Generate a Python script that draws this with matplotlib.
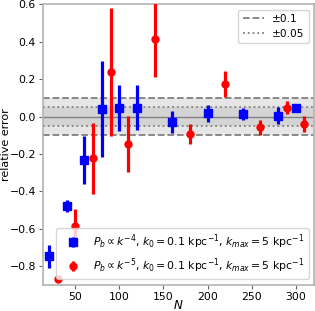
import numpy as np
from matplotlib import pyplot as plt

# relative error of recovered power spectrum vs number of points
N_k4 = [20, 40, 60, 80, 100, 120, 160, 200, 240, 280, 300]
err_k4 = [-0.748, -0.478, -0.232, 0.04, 0.045, 0.048, -0.03, 0.018, 0.013, 0.005, 0.048]
sig_k4 = [0.062, 0.03, 0.13, 0.255, 0.123, 0.12, 0.058, 0.045, 0.033, 0.045, 0.02]

N_k5 = [30, 50, 70, 90, 110, 140, 180, 220, 260, 290, 310]
err_k5 = [-0.866, -0.585, -0.223, 0.238, -0.146, 0.416, -0.093, 0.173, -0.057, 0.048, -0.039]
sig_k5 = [0.0, 0.09, 0.19, 0.34, 0.148, 0.205, 0.055, 0.07, 0.04, 0.035, 0.042]

lab_k4 = r'$P_b \propto k^{-4}$, $k_0 = 0.1$ kpc$^{-1}$, $k_{max} = 5$ kpc$^{-1}$'
lab_k5 = r'$P_b \propto k^{-5}$, $k_0 = 0.1$ kpc$^{-1}$, $k_{max} = 5$ kpc$^{-1}$'

fs = 7.6

fig = plt.figure(figsize=(3.15, 3.11), dpi=100)
ax = fig.add_axes([0.136, 0.084, 0.861, 0.902])

xlim = (13, 321)
xs = np.array(xlim)
ax.fill_between(xs, -0.1, 0.1, color='0.9', lw=0, zorder=0)
ax.fill_between(xs, -0.05, 0.05, color='0.83', lw=0, zorder=0)
ax.axhline(0, color='0.5', lw=1, zorder=1)
l1, = ax.plot(xs, [0.1, 0.1], ls='--', color='0.5', lw=1.3, zorder=1)
ax.plot(xs, [-0.1, -0.1], ls='--', color='0.5', lw=1.3, zorder=1)
l2, = ax.plot(xs, [0.05, 0.05], ls=':', color='0.5', lw=1.3, zorder=1)
ax.plot(xs, [-0.05, -0.05], ls=':', color='0.5', lw=1.3, zorder=1)

e1 = ax.errorbar(N_k4, err_k4, yerr=sig_k4, fmt='s', color='blue', ms=5.5, elinewidth=2.3, zorder=3, label=lab_k4)
e2 = ax.errorbar(N_k5, err_k5, yerr=sig_k5, fmt='o', color='red', ms=5, elinewidth=2.3, zorder=3, label=lab_k5)

leg1 = ax.legend([l1, l2], ['±0.1', '±0.05'], loc='upper right', fontsize=fs)
ax.add_artist(leg1)
ax.legend(handles=[e1, e2], loc='lower right', fontsize=7.8, handlelength=2.2)

ax.set_xlim(*xlim)
ax.set_ylim(-0.9, 0.6)
ax.set_xticks([50, 100, 150, 200, 250, 300])
ax.set_yticks([-0.8, -0.6, -0.4, -0.2, 0.0, 0.2, 0.4, 0.6])
ax.tick_params(labelsize=7.8, length=3, pad=2, color='0.4')
for s in ax.spines.values():
    s.set_color('0.7')
    s.set_linewidth(1.2)
ax.set_xlabel(r'$N$', fontsize=8.6)
ax.set_ylabel('relative error', fontsize=8)
ax.xaxis.set_label_coords(0.5, -0.05)
ax.yaxis.set_label_coords(-0.116, 0.5)

plt.savefig('out.png', dpi=100)
